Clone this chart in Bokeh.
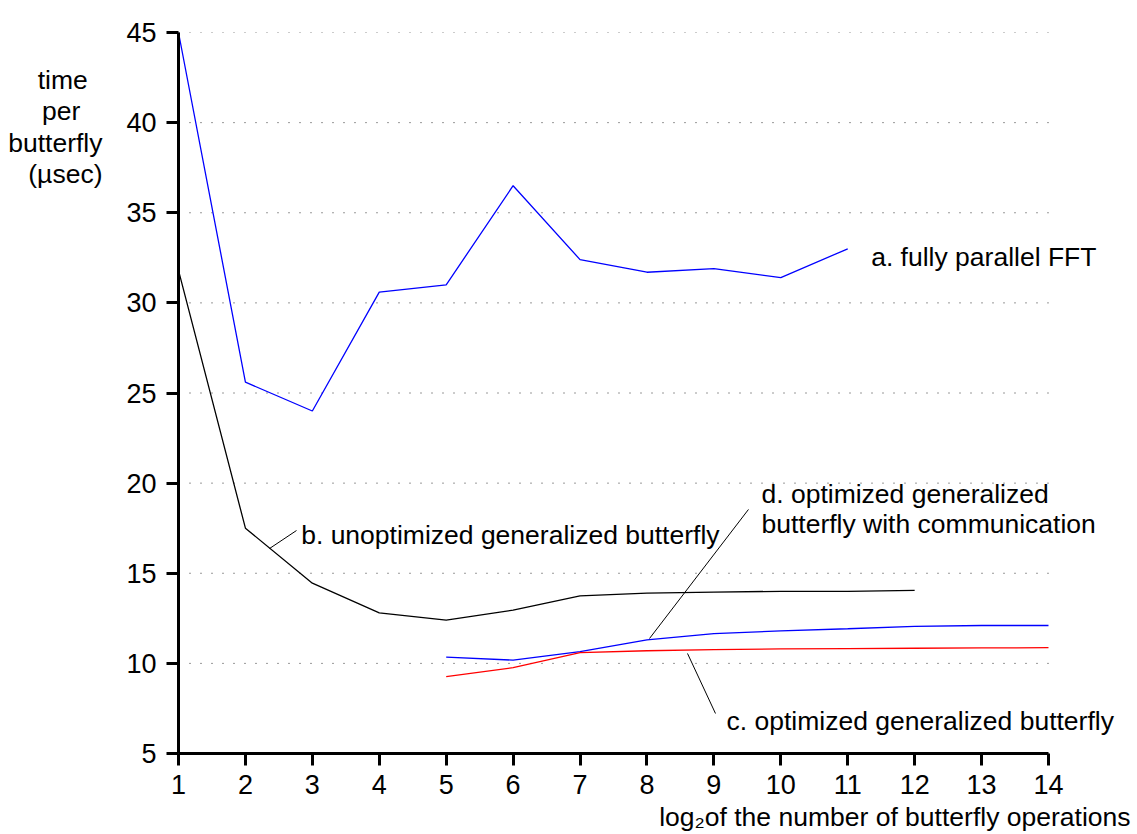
from bokeh.plotting import figure
from bokeh.models import Range1d, Label, FixedTicker, Title
from bokeh.embed import file_html
from bokeh.resources import INLINE

# ---- data ----
x_fft = [1, 2, 3, 4, 5, 6, 7, 8, 9, 10, 11]
t_fft = [45.0, 25.6, 24.0, 30.6, 31.0, 36.5, 32.4, 31.7, 31.9, 31.4, 33.0]

x_unopt = [1, 2, 3, 4, 5, 6, 7, 8, 9, 10, 11, 12]
t_unopt = [31.8, 17.5, 14.45, 12.8, 12.4, 12.95, 13.75, 13.9, 13.95, 14.0, 14.0, 14.05]

x_opt = [5, 6, 7, 8, 9, 10, 11, 12, 13, 14]
t_opt_comm = [10.35, 10.18, 10.65, 11.3, 11.65, 11.8, 11.92, 12.05, 12.1, 12.1]
t_opt = [9.26, 9.76, 10.6, 10.7, 10.76, 10.8, 10.82, 10.84, 10.86, 10.87]

x_ticks = [1, 2, 3, 4, 5, 6, 7, 8, 9, 10, 11, 12, 13, 14]
y_ticks = [5, 10, 15, 20, 25, 30, 35, 40, 45]

y_title_lines = ["time", "per", "butterfly", "(\u00b5sec)"]
x_title = "log\u2082of the number of butterfly operations"

FONT = "Liberation Sans"
FS = "26.5px"
NB = "\u00a0"

p = figure(width=1137, height=834,
           x_range=Range1d(1, 15.33), y_range=Range1d(5, 45),
           output_backend="svg", toolbar_location=None,
           min_border_left=178, min_border_right=0,
           min_border_top=32, min_border_bottom=81)
p.outline_line_color = None
p.background_fill_color = "white"
p.border_fill_color = "white"

for ax in (p.xaxis[0], p.yaxis[0]):
    ax.axis_line_width = 3
    ax.axis_line_color = "black"
    ax.major_tick_line_width = 3
    ax.major_tick_line_color = "black"
    ax.major_tick_out = 12
    ax.major_tick_in = 0
    ax.minor_tick_line_color = None
    ax.major_label_text_font = FONT
    ax.major_label_text_font_size = "27px"
    ax.major_label_text_color = "black"

p.xaxis.ticker = FixedTicker(ticks=x_ticks)
p.yaxis.ticker = FixedTicker(ticks=y_ticks)
p.xaxis.bounds = (x_ticks[0], x_ticks[-1])
p.yaxis.bounds = (y_ticks[0], y_ticks[-1])
p.xaxis.major_label_standoff = 9
p.yaxis.major_label_standoff = 10

# y-axis title: horizontal, stacked, near the top (lines padded to look centred;
# leading empty lines push the block down from the axis end)
pads = [2, 3, 0, 0]
lines = [t + NB * n for t, n in zip(y_title_lines, pads)]
p.yaxis.axis_label = "\n" * 6 + "\n".join(lines)
p.yaxis.axis_label_orientation = "horizontal"
p.yaxis.axis_label_align = "end"
p.yaxis.axis_label_standoff = 21
p.yaxis.axis_label_text_font = FONT
p.yaxis.axis_label_text_font_size = FS
p.yaxis.axis_label_text_font_style = "normal"
p.yaxis.axis_label_text_line_height = 1.05
p.yaxis.axis_label_text_color = "black"

# x-axis title, right-aligned under the axis end
p.add_layout(Title(text=x_title, align="right", offset=7, standoff=6,
                   text_font=FONT, text_font_size=FS, text_font_style="normal",
                   text_color="black"), "below")

p.xgrid.visible = False
p.ygrid.visible = False
# dotted reference lines at every y tick, spanning the x-axis extent
p.segment(x0=[x_ticks[0]] * len(y_ticks), x1=[x_ticks[-1]] * len(y_ticks),
          y0=y_ticks, y1=y_ticks, line_color="#333333", line_width=1,
          line_dash="1 10")

# ---- series ----
p.line(x_fft, t_fft, line_color="#0000ff", line_width=1.3)
p.line(x_unopt, t_unopt, line_color="black", line_width=1.3)
p.line(x_opt, t_opt_comm, line_color="#0000ff", line_width=1.3)
p.line(x_opt, t_opt, line_color="#ff0000", line_width=1.3)

# ---- leader lines for the annotations ----
p.segment(x0=[2.36, 8.038, 8.606], y0=[16.37, 11.38, 10.55],
          x1=[2.763, 9.517, 9.024], y1=[17.37, 18.54, 7.22],
          line_color="black", line_width=1)

def lab(x, y, text, align="left", size=FS):
    p.add_layout(Label(x=x, y=y, text=text, text_font=FONT, text_font_size=size,
                       text_color="black", text_align=align,
                       text_baseline="alphabetic"))

lab(11.35, 32.53, "a. fully parallel FFT")
lab(2.833, 17.13, "b. unoptimized generalized butterfly")
lab(9.711, 19.41, "d. optimized generalized")
lab(9.711, 17.74, "butterfly with communication")
lab(9.189, 6.78, "c. optimized generalized butterfly")

open("out.html", "w").write(file_html(p, INLINE))
